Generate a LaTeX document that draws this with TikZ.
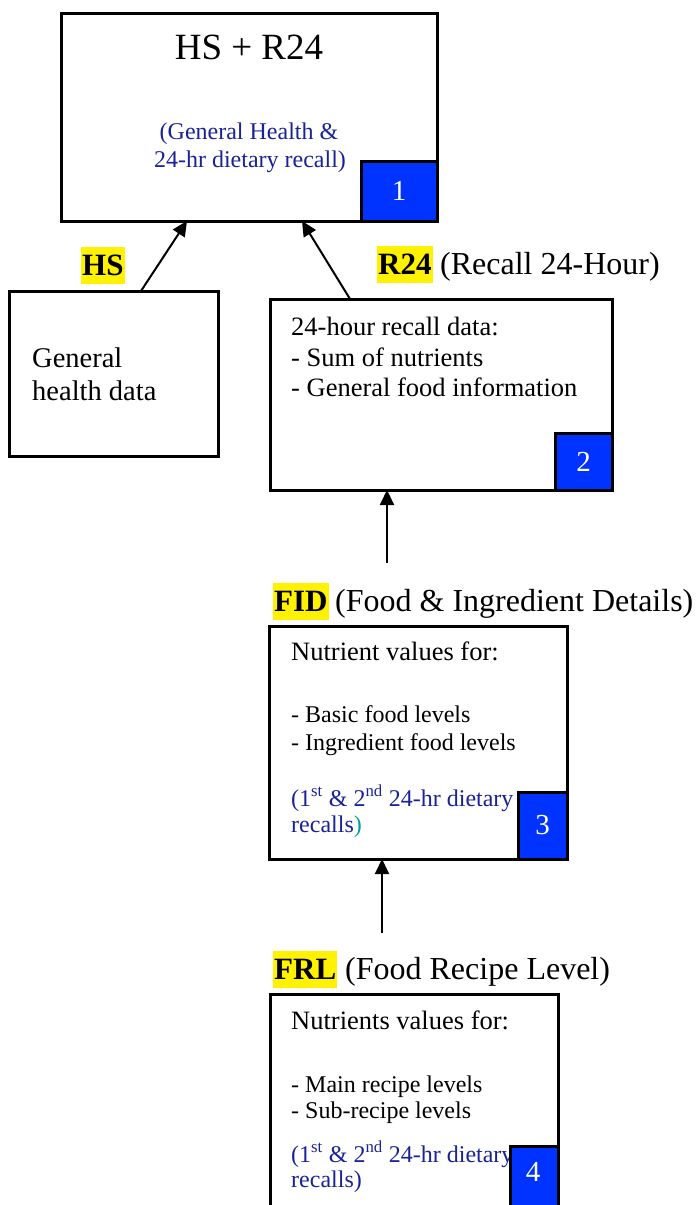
\documentclass[tikz,border=0pt]{standalone}
\usepackage{fontspec}
\setmainfont{Liberation Serif}
\usetikzlibrary{arrows.meta}
\definecolor{navyt}{RGB}{26,35,150}
\definecolor{sqblue}{RGB}{0,51,255}
\definecolor{tealp}{RGB}{0,160,160}
\begin{document}
\begin{tikzpicture}[x=1pt,y=-1pt,
  box/.style={draw=black, line width=3pt, fill=white, outer sep=0pt, inner sep=0pt, anchor=north west},
  numsq/.style={draw=black, line width=3pt, fill=sqblue, outer sep=0pt, inner sep=0pt, text=white, font=\fontsize{29}{32}\selectfont},
  hlab/.style={fill=yellow, inner xsep=1pt, inner ysep=0pt, text height=28pt, text depth=9pt, font=\fontsize{31}{34}\selectfont\bfseries, anchor=base west},
  lab/.style={inner sep=0pt, font=\fontsize{32}{35}\selectfont, anchor=base west},
  bodyl/.style={inner sep=0pt, font=\fontsize{26.5}{30}\selectfont, anchor=base west},
  bodyh/.style={inner sep=0pt, font=\fontsize{26.5}{30}\selectfont, anchor=base west},
  lists/.style={inner sep=0pt, font=\fontsize{24}{28}\selectfont, anchor=base west},
  bluet/.style={inner sep=0pt, font=\fontsize{24}{28}\selectfont, text=navyt},
  arr/.style={line width=2pt, -{Triangle[length=15pt,width=14pt]}}
]
\useasboundingbox (0,0) rectangle (697,1205);
\clip (0,0) rectangle (697,1205);

% ---- Box 1
\node[box, minimum width=376pt, minimum height=208pt] (b1) at (61,13) {};
\node[inner sep=0pt, font=\fontsize{37}{40}\selectfont, anchor=base] (t1) at (249,59) {HS + R24};
\node[bluet, anchor=base] (t1a) at (249,139) {(General Health \&};
\node[bluet, anchor=base] (t1b) at (250,167) {24-hr dietary recall)};
\node[numsq, minimum width=76pt, minimum height=60pt, anchor=south east] (s1) at (b1.south east) {1};

% ---- HS box
\node[hlab] (hsl) at (81,275) {HS};
\node[box, minimum width=209pt, minimum height=165pt] (hs) at (9,291) {};
\node[inner sep=0pt, font=\fontsize{28.5}{33}\selectfont, anchor=base west] (hs1) at (32,367) {General};
\node[inner sep=0pt, font=\fontsize{28.5}{33}\selectfont, anchor=base west] (hs2) at (32,400) {health data};

% ---- R24 box
\node[hlab] (r24l) at (377,274) {R24};
\node[lab] (r24d) at (440,274) {(Recall 24-Hour)};
\node[box, minimum width=342pt, minimum height=191pt] (b2) at (270,299) {};
\node[bodyl] (b2a) at (291,335) {24-hour recall data:};
\node[bodyl] (b2b) at (291,366) {- Sum of nutrients};
\node[bodyl] (b2c) at (291,396) {- General food information};
\node[numsq, minimum width=57pt, minimum height=57pt, anchor=south east] (s2) at (b2.south east) {2};

% ---- FID box
\node[hlab] (fidl) at (273,611) {FID};
\node[lab] (fidd) at (335,611) {(Food \& Ingredient Details)};
\node[box, minimum width=298pt, minimum height=233pt] (b3) at (269,626) {};
\node[bodyh] (b3a) at (291,660) {Nutrient values for:};
\node[lists] (b3b) at (291,722) {- Basic food levels};
\node[lists] (b3c) at (291,750) {- Ingredient food levels};
\node[bluet, anchor=base west] (b3d) at (291,806) {(1\textsuperscript{st} \& 2\textsuperscript{nd} 24-hr dietary};
\node[bluet, anchor=base west] (b3e) at (291,832) {recalls{\color{tealp})}};
\node[numsq, minimum width=49pt, minimum height=67pt, anchor=south east] (s3) at (b3.south east) {3};

% ---- FRL box
\node[hlab] (frll) at (273,979) {FRL};
\node[lab] (frld) at (345,979) {(Food Recipe Level)};
\node[box, minimum width=288pt, minimum height=232pt] (b4) at (270,994) {};
\node[bodyh] (b4a) at (291,1029) {Nutrients values for:};
\node[lists] (b4b) at (291,1092) {- Main recipe levels};
\node[lists] (b4c) at (291,1118) {- Sub-recipe levels};
\node[bluet, anchor=base west] (b4d) at (291,1162) {(1\textsuperscript{st} \& 2\textsuperscript{nd} 24-hr dietary};
\node[bluet, anchor=base west] (b4e) at (291,1187) {recalls)};
\node[numsq, minimum width=48pt, minimum height=80pt, anchor=north east] (s4) at (558,1146) {};
\node[inner sep=0pt, text=white, font=\fontsize{29}{32}\selectfont] (s4n) at (533,1172) {4};

% ---- connectors
\draw[arr] ([xshift=132pt]hs.north west) -- ([xshift=126pt]b1.south west);
\draw[arr] ([xshift=80pt]b2.north west) -- ([xshift=241pt]b1.south west);
\coordinate (c2) at (387,563);
\draw[arr] (c2) -- (c2 |- b2.south);
\coordinate (c3) at (382,933);
\draw[arr] (c3) -- (c3 |- b3.south);
\end{tikzpicture}
\end{document}
